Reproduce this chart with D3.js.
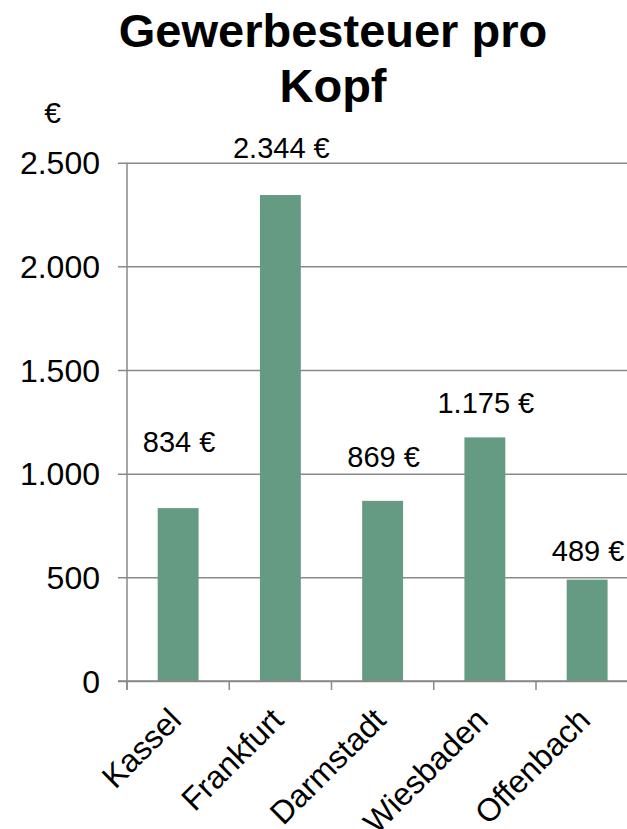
<!DOCTYPE html>
<html>
<head>
<meta charset="utf-8">
<script src="https://cdn.jsdelivr.net/npm/d3@7"></script>
<style>
  html, body { margin: 0; padding: 0; background: #ffffff; }
  svg { display: block; font-family: "Liberation Sans", Arial, sans-serif; }
</style>
</head>
<body>
<svg id="chart" width="627" height="829"></svg>
<script>
// ---- data ----
const titleLines = ["Gewerbesteuer pro", "Kopf"];
const unitLabel = "€";
const categories = ["Kassel", "Frankfurt", "Darmstadt", "Wiesbaden", "Offenbach"];
const values = [834, 2344, 869, 1175, 489];
const yTicks = [0, 500, 1000, 1500, 2000, 2500];
// label lift above bar top (reference places labels individually)
const labelLift = [56, 37, 34, 24, 19];

// ---- layout ----
const svg = d3.select("#chart");
const W = 627;
const axisX = 127, baseY = 681, topY = 162.7;
const step = 102.25;

const de = d3.formatLocale({ decimal: ",", thousands: ".", grouping: [3], currency: ["", " €"] });
const fmt = de.format(",d");

const x = d3.scaleBand()
  .domain(categories)
  .range([axisX, axisX + step * categories.length])
  .paddingInner(0.6)
  .paddingOuter(0.3);

const y = d3.scaleLinear().domain([0, 2500]).range([baseY, topY]);

const gridColor = "#898989";

// gridlines + y tick labels
const yAxis = d3.axisLeft(y)
  .tickValues(yTicks)
  .tickSize(-(W - axisX))
  .tickSizeOuter(0)
  .tickPadding(0)
  .tickFormat(fmt);

const gy = svg.append("g").attr("transform", `translate(${axisX},0)`).call(yAxis);
gy.select(".domain").remove();
gy.selectAll(".tick line")
  .attr("x1", -9)
  .attr("stroke", gridColor)
  .attr("stroke-width", 1.5);
gy.selectAll(".tick text")
  .attr("x", -27)
  .attr("dy", "0.35em")
  .attr("font-size", 32)
  .attr("font-family", "Liberation Sans, Arial, sans-serif")
  .attr("fill", "#000");

// bars
svg.append("g").selectAll("rect")
  .data(categories)
  .join("rect")
  .attr("x", d => x(d))
  .attr("width", x.bandwidth())
  .attr("y", (d, i) => y(values[i]))
  .attr("height", (d, i) => baseY - y(values[i]))
  .attr("fill", "#659b83");

// x axis (ticks between categories)
const xTickPos = categories.map(d => x(d) - x.step() * x.paddingOuter());
const gx = svg.append("g");
gx.append("line")
  .attr("x1", axisX - 9).attr("x2", W)
  .attr("y1", baseY).attr("y2", baseY)
  .attr("stroke", gridColor).attr("stroke-width", 1.5);
gx.selectAll("line.xt")
  .data(xTickPos)
  .join("line")
  .attr("class", "xt")
  .attr("x1", d => d).attr("x2", d => d)
  .attr("y1", baseY).attr("y2", baseY + 9)
  .attr("stroke", gridColor).attr("stroke-width", 1.5);

// y axis line
svg.append("line")
  .attr("x1", axisX).attr("x2", axisX)
  .attr("y1", topY).attr("y2", baseY + 9)
  .attr("stroke", gridColor).attr("stroke-width", 1.5);

// category labels
svg.append("g").selectAll("text")
  .data(categories)
  .join("text")
  .attr("transform", d => `translate(${x(d) + x.bandwidth() / 2 + 5},${baseY + 41}) rotate(-45)`)
  .attr("text-anchor", "end")
  .attr("font-size", 32)
  .attr("fill", "#000")
  .text(d => d);

// data labels
svg.append("g").selectAll("text")
  .data(categories)
  .join("text")
  .attr("x", d => x(d) + x.bandwidth() / 2 + 1)
  .attr("y", (d, i) => y(values[i]) - labelLift[i])
  .attr("text-anchor", "middle")
  .attr("font-size", 29)
  .attr("fill", "#000")
  .text((d, i) => fmt(values[i]) + " €");

// unit label
svg.append("text")
  .attr("x", 52.5).attr("y", 123)
  .attr("text-anchor", "middle")
  .attr("font-size", 30)
  .attr("fill", "#000")
  .text(unitLabel);

// title
svg.append("g").selectAll("text")
  .data(titleLines)
  .join("text")
  .attr("x", 333)
  .attr("y", (d, i) => 47 + i * 55)
  .attr("text-anchor", "middle")
  .attr("font-size", 47)
  .attr("font-weight", "bold")
  .attr("fill", "#000")
  .text(d => d);
</script>
</body>
</html>
